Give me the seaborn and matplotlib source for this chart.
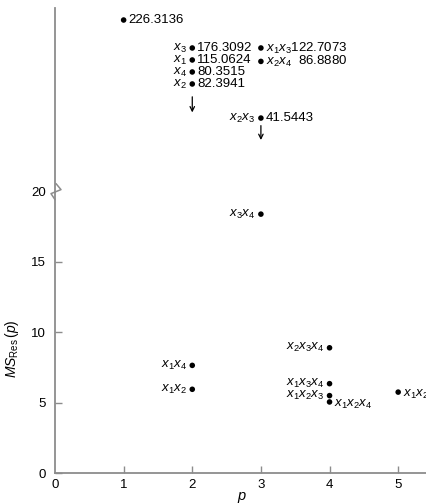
import matplotlib.pyplot as plt
import seaborn as sns
import pandas as pd

sns.set_style("ticks")
plt.rcParams['font.family'] = ['Liberation Sans', 'DejaVu Sans']
plt.rcParams['text.color'] = 'black'
plt.rcParams['mathtext.fontset'] = 'custom'
plt.rcParams['mathtext.rm'] = 'Liberation Sans'
plt.rcParams['mathtext.it'] = 'Liberation Sans:italic'

# subsets with small residual mean square (drawn to scale)
low_subset = ['$x_3x_4$', '$x_2x_3x_4$', '$x_1x_4$', '$x_1x_2$',
              '$x_1x_3x_4$', '$x_1x_2x_3$', '$x_1x_2x_4$', '$x_1x_2x_3x_4$']
low_p = [3, 4, 2, 2, 4, 4, 4, 5]
low_ms = [18.4, 8.9, 7.65, 5.95, 6.35, 5.5, 5.05, 5.75]
low_side = ['l', 'l', 'l', 'l', 'l', 'l', 'r', 'r']

# subsets with large residual mean square (listed, off scale)
high_subset = ['', '$x_3$', '$x_1$', '$x_4$', '$x_2$', '$x_1x_3$', '$x_2x_4$', '$x_2x_3$']
high_p = [1, 2, 2, 2, 2, 3, 3, 3]
high_ms = [226.3136, 176.3092, 115.0624, 80.3515, 82.3941, 122.7073, 86.8880, 41.5443]
high_side = ['l', 'l', 'l', 'l', 'l', 'r', 'r', 'l']
high_row = [1, 3.33, 4.33, 5.33, 6.33, 3.33, 4.45, 9.17]  # display rows in the broken part

arrow_p = [2, 3]
arrow_rows = [(7.4, 8.7), (9.8, 11.0)]

low_df = pd.DataFrame({'subset': low_subset, 'p': low_p, 'ms': low_ms})
high_df = pd.DataFrame({'subset': high_subset, 'p': high_p, 'ms': high_ms, 'row': high_row})

fig = plt.figure(figsize=(4.27, 5.04), dpi=100)
ax = fig.add_axes([0.1288, 0.0615, 0.8712, 0.5583])
axu = fig.add_axes([0.1288, 0.6198, 0.8712, 0.3643])
axu.set_facecolor('none')

grey = '#8c8c8c'
fs = 9.5

# lower (scaled) part
sns.scatterplot(data=low_df, x='p', y='ms', ax=ax, color='black', s=16,
                edgecolor='none', legend=False, clip_on=False)
ax.set_xlim(0, 5.42)
ax.set_ylim(0, 20)
ax.set_xticks([0, 1, 2, 3, 4, 5])
ax.set_yticks([0, 5, 10, 15, 20])
sns.despine(ax=ax)
for s in ['left', 'bottom']:
    ax.spines[s].set_color(grey)
    ax.spines[s].set_linewidth(1.3)
ax.tick_params(direction='in', length=5, width=1, color=grey, labelsize=fs,
               labelcolor='black')
ax.tick_params(axis='x', pad=4.5)
ax.tick_params(axis='y', pad=6.5)
ax.yaxis.get_major_ticks()[-1].tick1line.set_visible(False)
ax.xaxis.get_major_ticks()[0].tick1line.set_visible(False)

ax.set_xlabel('p', fontstyle='italic', fontsize=10.5, labelpad=-1.5, color='black')
ax.set_ylabel(r'$MS_{\mathrm{Res}}\,(p)$', fontsize=10, color='black')
ax.yaxis.set_label_coords(-0.092, 0.44)

for lab, p, m, side in zip(low_subset, low_p, low_ms, low_side):
    if side == 'l':
        ax.annotate(lab, (p, m), xytext=(-4, 0), textcoords='offset points',
                    ha='right', va='center', fontsize=fs)
    else:
        t = ax.annotate(lab, (p, m), xytext=(3.5, -1.5), textcoords='offset points',
                        ha='left', va='center', fontsize=fs)
        t.set_clip_on(True)

# upper (off-scale) part
sns.scatterplot(data=high_df, x='p', y='row', ax=axu, color='black', s=16,
                edgecolor='none', legend=False)
axu.set_xlim(0, 5.42)
axu.set_ylim(15.3, 0)
axu.set_xticks([])
axu.set_yticks([])
axu.set_xlabel('')
axu.set_ylabel('')
for s in ['top', 'right', 'bottom']:
    axu.spines[s].set_visible(False)
axu.spines['left'].set_color(grey)
axu.spines['left'].set_linewidth(1.3)

for lab, p, m, side, r in zip(high_subset, high_p, high_ms, high_side, high_row):
    val = f'{m:.4f}'
    if side == 'l':
        if lab:
            axu.annotate(lab, (p, r), xytext=(-4, 0), textcoords='offset points',
                         ha='right', va='center', fontsize=fs)
        axu.annotate(val, (p, r), xytext=(3.5, 0), textcoords='offset points',
                     ha='left', va='center', fontsize=fs)
    else:
        pad = '  ' if len(val) < 8 else ''
        axu.annotate(lab + pad + val, (p, r), xytext=(3.5, 0), textcoords='offset points',
                     ha='left', va='center', fontsize=fs)

for p, (r0, r1) in zip(arrow_p, arrow_rows):
    axu.annotate('', xy=(p, r1), xytext=(p, r0),
                 arrowprops=dict(arrowstyle='->', color='black', lw=0.9, mutation_scale=8,
                                 shrinkA=0, shrinkB=0))

# axis break mark at 20, drawn on top of both axes
zx = [0, -4, 6, 1]
zy = [-8, -2, 2, 8]
x0, y0 = ax.transAxes.transform((0, 1))
fig.lines.append(plt.Line2D([(x0 + x) / 427 for x in zx], [(y0 + y) / 504 for y in zy],
                            transform=fig.transFigure, color=grey, lw=1.1, zorder=10))

fig.savefig('out.png', dpi=100)
